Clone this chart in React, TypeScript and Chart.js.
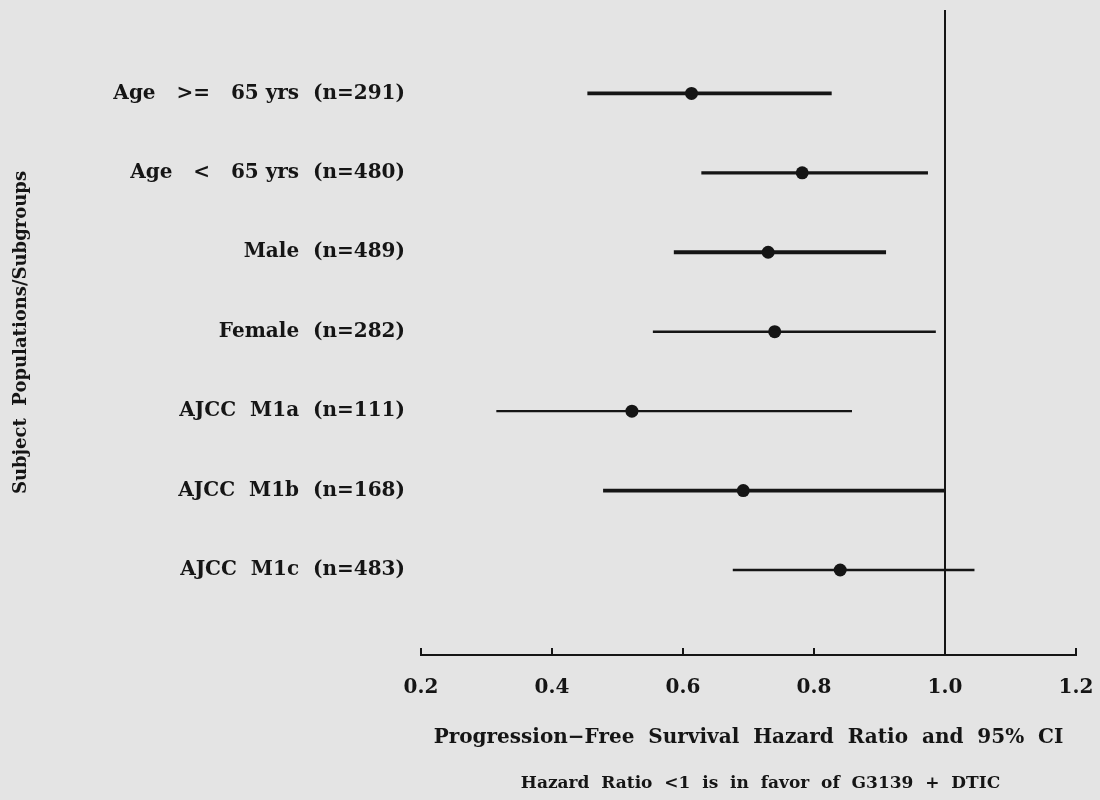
import React, { useEffect, useRef } from "react";
import { Chart, registerables } from "chart.js";

Chart.register(...registerables);

// ---- data ----
const SUBGROUPS = [
  "Age   >=   65 yrs  (n=291)",
  "Age   <   65 yrs  (n=480)",
  "Male  (n=489)",
  "Female  (n=282)",
  "AJCC  M1a  (n=111)",
  "AJCC  M1b  (n=168)",
  "AJCC  M1c  (n=483)",
];
const HAZARD_RATIO = [0.613, 0.782, 0.730, 0.740, 0.522, 0.692, 0.840];
const CI_LOWER = [0.454, 0.628, 0.586, 0.554, 0.315, 0.478, 0.676];
const CI_UPPER = [0.827, 0.974, 0.910, 0.986, 0.858, 1.0, 1.045];
const X_TICKS = [0.2, 0.4, 0.6, 0.8, 1.0, 1.2];
const REFERENCE_HR = 1.0;

const X_TITLE = "Progression\u2212Free  Survival  Hazard  Ratio  and  95%  CI";
const Y_TITLE = "Subject  Populations/Subgroups";
const FOOTNOTE = "Hazard  Ratio  <1  is  in  favor  of  G3139  +  DTIC";

// ---- styles ----
const INK = "#151515";
const BG = "#e4e4e4";
const FONT = "'DejaVu Serif', 'Liberation Serif', serif";
const LINE_WIDTHS = [3.8, 3.2, 3.8, 2.4, 2.4, 3.8, 2.6];
const Y_MIN = -0.05;
const Y_MAX = 8.07;

const bgPlugin = {
  id: "bgFill",
  beforeDraw(chart: any) {
    const { ctx, width, height } = chart;
    ctx.save();
    ctx.fillStyle = BG;
    ctx.fillRect(0, 0, width, height);
    ctx.restore();
  },
};

const innerTicksPlugin = {
  id: "innerTicks",
  afterDraw(chart: any) {
    const x = chart.scales.x;
    const { ctx, chartArea } = chart;
    ctx.save();
    ctx.strokeStyle = INK;
    ctx.lineWidth = 2;
    x.ticks.forEach((t: any) => {
      const px = x.getPixelForValue(t.value);
      ctx.beginPath();
      ctx.moveTo(px, chartArea.bottom);
      ctx.lineTo(px, chartArea.bottom - 7);
      ctx.stroke();
    });
    // footnote under the axis title
    ctx.fillStyle = INK;
    ctx.font = `bold 17px ${FONT}`;
    ctx.textAlign = "center";
    ctx.textBaseline = "middle";
    ctx.fillText(FOOTNOTE, (chartArea.left + chartArea.right) / 2 + 12, 784);
    ctx.restore();
  },
};

export default function App() {
  const ref = useRef<HTMLCanvasElement | null>(null);

  useEffect(() => {
    if (!ref.current) return;

    const ciSets = SUBGROUPS.map((label, i) => ({
      label,
      data: [
        { x: CI_LOWER[i], y: i + 1 },
        { x: CI_UPPER[i], y: i + 1 },
      ],
      showLine: true,
      borderColor: INK,
      borderWidth: LINE_WIDTHS[i],
      pointRadius: 0,
      borderCapStyle: "butt",
    }));

    const chart = new Chart(ref.current, {
      type: "scatter",
      data: {
        datasets: [
          {
            label: "reference",
            data: [
              { x: REFERENCE_HR, y: Y_MIN },
              { x: REFERENCE_HR, y: Y_MAX },
            ],
            showLine: true,
            borderColor: INK,
            borderWidth: 2,
            pointRadius: 0,
          },
          ...ciSets,
          {
            label: "HR",
            data: HAZARD_RATIO.map((v, i) => ({ x: v, y: i + 1 })),
            pointRadius: 6.5,
            pointBackgroundColor: INK,
            pointBorderColor: INK,
            borderWidth: 0,
          },
        ] as any,
      },
      options: {
        animation: false,
        responsive: false,
        layout: { padding: { top: 10, right: 24, left: 0, bottom: 0 } },
        plugins: {
          legend: { display: false },
          tooltip: { enabled: false },
        },
        scales: {
          x: {
            type: "linear",
            min: X_TICKS[0],
            max: X_TICKS[X_TICKS.length - 1],
            afterBuildTicks: (s: any) => {
              s.ticks = X_TICKS.map((v) => ({ value: v }));
            },
            afterFit: (s: any) => {
              s.height = 145;
              s.paddingLeft = 0;
              s.paddingRight = 0;
            },
            grid: { display: true, drawOnChartArea: false, drawTicks: false },
            border: { display: true, color: INK, width: 2 },
            ticks: {
              color: INK,
              padding: 21,
              font: { family: FONT, size: 20, weight: "bold" },
              callback: (v: any) => Number(v).toFixed(1),
            },
            title: {
              display: true,
              text: X_TITLE,
              color: INK,
              font: { family: FONT, size: 20, weight: "bold" },
              padding: { top: 0, bottom: 50 },
            },
          },
          y: {
            type: "linear",
            reverse: true,
            min: Y_MIN,
            max: Y_MAX,
            afterBuildTicks: (s: any) => {
              s.ticks = SUBGROUPS.map((_, i) => ({ value: i + 1 }));
            },
            afterFit: (s: any) => {
              s.width = 421;
              s.paddingTop = 0;
              s.paddingBottom = 0;
            },
            grid: { display: false, drawTicks: false },
            border: { display: false },
            ticks: {
              color: INK,
              padding: 16,
              font: { family: FONT, size: 20, weight: "bold" },
              callback: (v: any) => SUBGROUPS[Math.round(Number(v)) - 1] ?? "",
            },
            title: {
              display: true,
              text: Y_TITLE,
              color: INK,
              font: { family: FONT, size: 18, weight: "bold" },
              padding: { top: 11, bottom: 10 },
            },
          },
        },
      },
      plugins: [bgPlugin, innerTicksPlugin],
    } as any);

    return () => chart.destroy();
  }, []);

  return (
    <div style={{ position: "fixed", left: 0, top: 0, width: 1100, height: 800 }}>
      <canvas ref={ref} width={1100} height={800} style={{ display: "block" }} />
    </div>
  );
}
